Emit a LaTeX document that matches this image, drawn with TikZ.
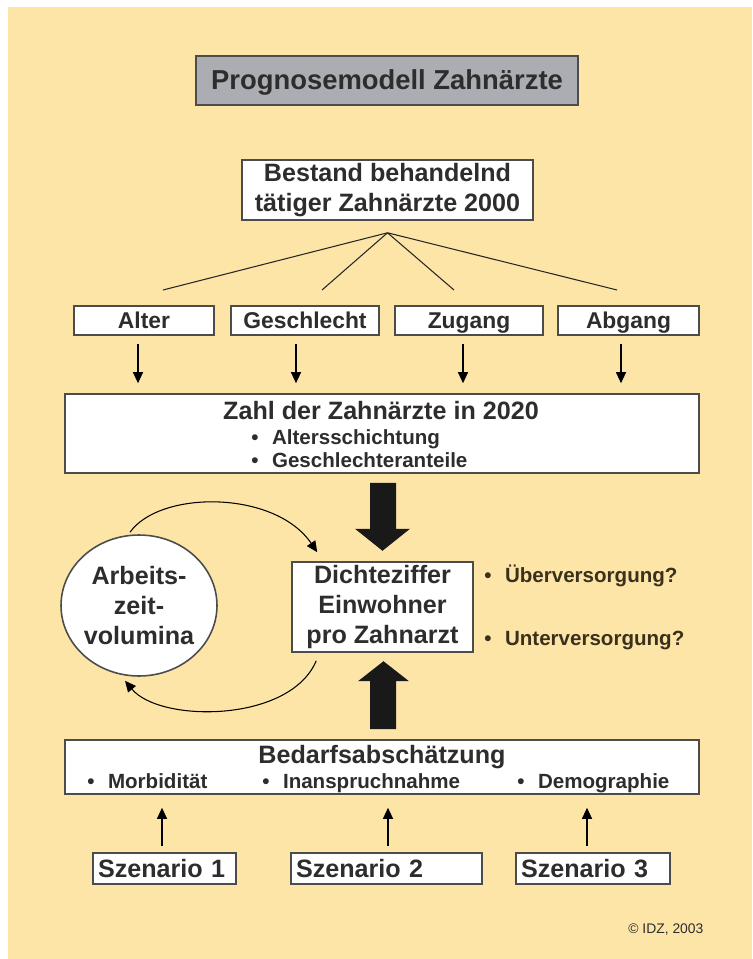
\documentclass[tikz,border=0pt]{standalone}
\usepackage{fontspec}
\setmainfont{Liberation Sans}
\usetikzlibrary{calc}
\usetikzlibrary{arrows.meta,shapes.geometric}

\definecolor{paper}{RGB}{253,229,168}
\definecolor{titlegray}{RGB}{172,173,178}
\definecolor{ink}{RGB}{45,45,45}
\definecolor{brownink}{RGB}{58,48,28}
\newcommand{\boxfont}{\fontsize{14.3}{17}\selectfont\bfseries}
\newcommand{\itm}{\textbullet\hspace{0.27cm}}

\begin{document}
\begin{tikzpicture}[x=0.02cm, y=-0.02cm,
    box/.style={draw=black!70, line width=0.9pt, fill=white, text=ink, font=\boxfont, align=center, inner sep=0pt},
    onerow/.style={text height=10.6pt, text depth=0.4pt},
    factor/.style={box, font=\fontsize{13}{15}\selectfont\bfseries, text height=9.6pt, text depth=0.4pt, minimum height=0.58cm},
    item/.style={text=ink, font=\fontsize{11.7}{13}\selectfont\bfseries, inner sep=0pt, anchor=base west},
    thin arrow/.style={line width=0.6pt, -{Triangle[length=2.2mm,width=2mm]}},
    link/.style={line width=0.6pt, draw=black!85}]

    % Background
    \useasboundingbox (0,0) rectangle (752,959);
    \fill[white] (0,0) rectangle (752,959);
    \fill[paper] (8,7) rectangle (752,959);

    % Title
    \node[box, onerow, fill=titlegray, minimum width=7.64cm, minimum height=0.98cm, font=\fontsize{15.6}{18}\selectfont\bfseries] (title) at (387,80.5) {Prognosemodell Zahnärzte};

    % Stock and its four factors
    \node[box, minimum width=5.82cm, minimum height=1.2cm] (bestand) at (387.5,190) {Bestand behandelnd\\tätiger Zahnärzte 2000};
    \node[factor, minimum width=2.8cm] (alter) at (144,320.5) {Alter};
    \node[factor, minimum width=2.96cm] (geschlecht) at (305,320.5) {Geschlecht};
    \node[factor, minimum width=2.96cm] (zugang) at (469,320.5) {Zugang};
    \node[factor, minimum width=2.82cm] (abgang) at (628.5,320.5) {Abgang};

    % Fan of lines
    \coordinate (apex) at ($(bestand.south)+(0,12)$);
    \coordinate (endA) at (163,290);
    \coordinate (endG) at (322,290);
    \coordinate (endZ) at (454,290);
    \coordinate (endB) at (617,290);
    \foreach \e in {endA,endG,endZ,endB}
        \draw[link] (apex) -- (\e);

    % Number of dentists in 2020
    \node[box, minimum width=12.68cm, minimum height=1.58cm] (zahl) at (382,433.5) {};
    \node[text=ink, font=\boxfont, inner sep=0pt, anchor=base] (zahltext) at (381,419) {Zahl der Zahnärzte in 2020};
    \node[item] (schicht) at (251,444) {\itm Altersschichtung};
    \node[item] (anteile) at (251,467) {\itm Geschlechteranteile};

    \foreach \b/\dx in {alter/-6,geschlecht/-9,zugang/-6,abgang/-7.5}
        \draw[thin arrow] ($(\b.south)+(\dx,8)$) -- ($(\b.south |- zahl.north)+(\dx,-10)$);

    % Density ratio and working time
    \node[box, minimum width=3.62cm, minimum height=1.8cm] (dichte) at (382.5,607) {Dichteziffer\\Einwohner\\pro Zahnarzt};
    \node[box, ellipse, minimum width=2.96cm, minimum height=2.82cm] (arbeit) at (139,605.5) {Arbeits-\\zeit-\\volumina};
    \node[item, text=brownink] (ueber) at (484,582) {\itm Überversorgung?};
    \node[item, text=brownink] (unter) at (484,645) {\itm Unterversorgung?};

    \draw[thin arrow] ($(arbeit.north)+(-9,-2)$) .. controls (160,490) and (275,490) .. ($(dichte.north west)+(26,-9)$);
    \draw[thin arrow] ($(dichte.south west)+(25,8)$) .. controls (290,723) and (160,723) .. ($(arbeit.south)+(-14,4)$);

    % Big arrows
    \fill[black!90] ($(zahl.south)+(-12,9)$) -- ++(26,0) -- ++(0,46) -- ++(14,0) -- ++(-27.5,22) -- ++(-27.5,-22) -- ++(15,0) -- cycle;

    % Demand estimation
    \node[box, minimum width=12.68cm, minimum height=1.08cm] (bedarf) at (382,767) {};
    \node[text=ink, font=\boxfont, inner sep=0pt, anchor=base] (bedarftext) at (382,763) {Bedarfsabschätzung};
    \node[item] (morb) at (87,788) {\itm Morbidität};
    \node[item] (inan) at (262,788) {\itm Inanspruchnahme};
    \node[item] (demo) at (517,788) {\itm Demographie};

    \fill[black!90] ($(bedarf.north)+(-12,-10)$) -- ++(0,-48) -- ++(-12,0) -- ++(25.5,-20) -- ++(25.5,20) -- ++(-13,0) -- ++(0,48) -- cycle;

    % Scenarios
    \node[box, onerow, align=left, minimum width=2.86cm, text width=2.66cm, minimum height=0.62cm] (sz1) at (164.5,868.5) {Szenario 1};
    \node[box, onerow, align=left, minimum width=3.82cm, text width=3.62cm, minimum height=0.62cm] (sz2) at (386.5,868.5) {Szenario 2};
    \node[box, onerow, align=left, minimum width=3.08cm, text width=2.88cm, minimum height=0.62cm] (sz3) at (593,868.5) {Szenario 3};

    \foreach \s/\dx in {sz1/-2.5,sz2/1.5,sz3/-6}
        \draw[thin arrow] ($(\s.north)+(\dx,-6)$) -- ($(\s.north |- bedarf.south)+(\dx,13)$);

    % Source
    \node[text=ink, font=\fontsize{7.9}{9}\selectfont, inner sep=0pt, anchor=base west] (quelle) at (628,933) {© IDZ, 2003};
\end{tikzpicture}
\end{document}
